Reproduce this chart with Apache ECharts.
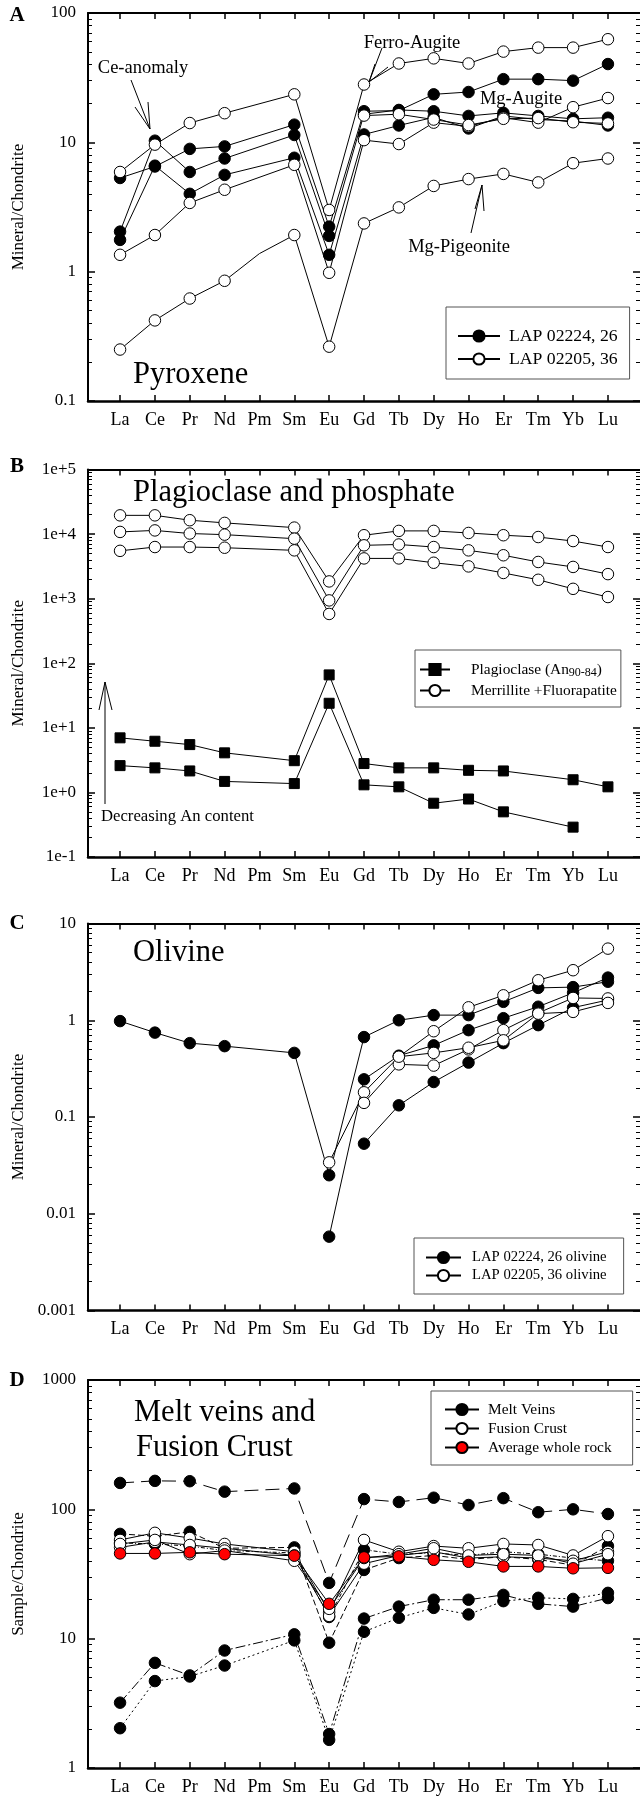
<!DOCTYPE html>
<html>
<head>
<meta charset="utf-8">
<script src="https://cdn.jsdelivr.net/npm/echarts@6/dist/echarts.min.js"></script>
<style>
  html, body { margin: 0; padding: 0; background: #fff; }
  #chart { width: 640px; height: 1797px; }
</style>
</head>
<body>
<div id="chart"></div>
<script>
// Rare earth elements along the x axis (Pm is never measured)
const elements = ['La', 'Ce', 'Pr', 'Nd', 'Pm', 'Sm', 'Eu', 'Gd', 'Tb', 'Dy', 'Ho', 'Er', 'Tm', 'Yb', 'Lu'];

// Tick labels of the four log axes
const ticksA = ['0.1', '1', '10', '100'];
const ticksB = ['1e-1', '1e+0', '1e+1', '1e+2', '1e+3', '1e+4', '1e+5'];
const ticksC = ['0.001', '0.01', '0.1', '1', '10'];
const ticksD = ['1', '10', '100', '1000'];

// A: pyroxene, LAP 02224, 26
const pyx26a = [5.3, 6.5, 8.9, 9.3, null, 13.7, 2.23, 17.4, 17.6, 23.5, 24.5, 30.8, 30.8, 30.0, 40.3];
const pyx26b = [2.04, 10.3, 5.9, 7.5, null, 11.4, 1.89, 16.5, 17.8, 17.4, 16.0, 16.9, 16.0, 15.2, 15.5];
const pyx26c = [1.76, 6.6, 4.0, 5.6, null, 7.6, 1.35, 11.5, 13.5, 15.6, 12.8, 16.0, 15.0, 14.6, 13.5];
// A: pyroxene, LAP 02205, 36
const pyx36a = [5.9, 9.6, 14.1, 16.8, null, 23.5, 3.0, 28.0, 40.7, 44.6, 40.7, 50.3, 54.0, 54.0, 62.7];
const pyx36b = [1.35, 1.92, 3.4, 4.3, null, 6.7, 0.98, 10.4, 9.7, 14.2, 13.3, 15.5, 14.2, 18.7, 22.0];
const pyx36c = [null, null, null, null, null, null, null, 16.1, 16.5, 15.0, 13.6, 15.2, 15.4, 14.3, 14.0];
const pyx36d = [0.25, 0.42, 0.62, 0.85, 1.38, 1.92, 0.263, 2.36, 3.14, 4.6, 5.2, 5.7, 4.9, 6.9, 7.5];

// B: plagioclase and phosphate
const plagHigh = [7.0, 6.2, 5.5, 4.1, null, 3.1, 66, 2.8, 2.4, 2.4, 2.2, 2.15, null, 1.57, 1.22];
const plagLow = [2.6, 2.4, 2.15, 1.48, null, 1.37, 24, 1.31, 1.22, 0.68, 0.79, 0.50, null, 0.29, null];
const phos1 = [19500, 19500, 16400, 14900, null, 12600, 1850, 9600, 11200, 11200, 10400, 9600, 9000, 7800, 6300];
const phos2 = [10800, 11400, 10200, 9800, null, 8500, 940, 6700, 6900, 6300, 5600, 4700, 3700, 3100, 2400];
const phos3 = [5500, 6300, 6300, 6150, null, 5600, 580, 4200, 4200, 3600, 3160, 2500, 1960, 1420, 1060];

// C: olivine, LAP 02224, 26
const oliv26a = [0.98, 0.745, 0.58, 0.54, null, 0.46, 0.025, 0.67, 1.0, 1.13, 1.13, 1.55, 2.16, 2.2, 2.5];
const oliv26b = [null, null, null, null, null, null, 0.0058, 0.245, 0.43, 0.55, 0.79, 1.05, 1.38, 1.92, 2.76];
const oliv26c = [null, null, null, null, null, null, null, 0.053, 0.132, 0.23, 0.365, 0.58, 0.89, 1.35, 1.62];
// C: olivine, LAP 02205, 36
const oliv36a = [null, null, null, null, null, null, 0.034, 0.18, 0.42, 0.77, 1.36, 1.81, 2.59, 3.29, 5.5];
const oliv36b = [null, null, null, null, null, null, null, 0.14, 0.35, 0.34, 0.50, 0.79, 1.19, 1.70, 1.68];
const oliv36c = [null, null, null, null, null, null, null, null, 0.42, 0.46, 0.52, 0.62, 1.17, 1.22, 1.51];

// D: melt veins, fusion crust and whole rock
const vein1 = [160, 166, 165, 137, null, 145, 27, 120, 114, 123, 108, 122, 95, 100, 92];
const vein2 = [3.2, 6.5, 5.2, 8.1, null, 10.8, 1.83, 14.3, 17.7, 20.0, 20.0, 21.8, 18.6, 17.7, 20.6];
const vein3 = [2.03, 4.7, 5.1, 6.2, null, 9.7, 1.65, 11.3, 14.5, 17.3, 15.4, 19.5, 20.7, 20.3, 22.6];
const vein4 = [64.6, 62, 67, 50, null, 50.8, 9.3, 34, 42, 44, 41, 43, 41, 37, 52];
const vein5 = [55, 54, 52, 48, null, 46, 14.7, 48.7, 45, 46, 44, 47, 45, 42, 40];
const crust1 = [58, 65.8, 60, 54, null, 47, 16, 58, 47, 52, 50, 54, 53, 44, 62];
const crust2 = [50.8, 56, 53, 50, null, 44, 15, 38, 44, 47, 42, 43, 42, 40, 47];
const crust3 = [54, 58, 45, 48, null, 40, 17, 42, 45, 50, 44, 45, 44, 38, 45];
const wholeRock = [45.6, 45.6, 46.5, 45, null, 43.8, 18.6, 42.5, 43.3, 40.7, 39.3, 36.2, 36.2, 35.0, 35.3];

const FONT = '"Liberation Serif", "Times New Roman", serif';
const PM = 4;

// placement of the four panels
const panels = [
  { top: 13, height: 388, min: -1, max: 2, labels: ticksA, name: 'Mineral/Chondrite' },
  { top: 469.5, height: 387.5, min: -1, max: 5, labels: ticksB, name: 'Mineral/Chondrite' },
  { top: 923.5, height: 387, min: -3, max: 1, labels: ticksC, name: 'Mineral/Chondrite' },
  { top: 1380, height: 388, min: 0, max: 3, labels: ticksD, name: 'Sample/Chondrite' }
];
const GRID_LEFT = 88, GRID_RIGHT = 0;

const catTicks = elements.map((_, i) => i);
const blackLine = w => ({ color: '#000', width: w });

function minorValues(min, max) {
  const out = [];
  for (let d = min; d < max; d++) {
    for (let k = 2; k <= 9; k++) out.push(d + Math.log10(k));
  }
  return out;
}

// Each panel uses three stacked grids of the same size:
// the main one (frame, labels, series) and two that only carry the
// short log-decade minor ticks on the left and right edges.
const grids = [], xAxes = [], yAxes = [];
panels.forEach((p, g) => {
  const gridBase = {
    left: GRID_LEFT, right: GRID_RIGHT, top: p.top, height: p.height,
    containLabel: false, outerBoundsMode: 'none', show: false
  };
  const main = grids.length;
  grids.push(Object.assign({}, gridBase));
  const xBase = { type: 'value', min: -0.92, max: 14.92, splitLine: { show: false }, offset: 0 };
  p.xBottom = xAxes.length;
  xAxes.push(Object.assign({}, xBase, {
    gridIndex: main, position: 'bottom',
    axisLine: { show: true, onZero: false, lineStyle: blackLine(2.5) },
    axisTick: { show: true, inside: true, length: 6, customValues: catTicks, lineStyle: blackLine(1.5) },
    axisLabel: {
      show: true, customValues: catTicks, formatter: v => elements[Math.round(v)],
      fontFamily: FONT, fontSize: 18, color: '#000', margin: 10
    }
  }));
  xAxes.push(Object.assign({}, xBase, {
    gridIndex: main, position: 'top',
    axisLine: { show: true, onZero: false, lineStyle: blackLine(2) },
    axisTick: { show: true, inside: true, length: 6, customValues: catTicks, lineStyle: blackLine(1.5) },
    axisLabel: { show: false }
  }));
  const yBase = { type: 'value', min: p.min, max: p.max, splitLine: { show: false }, offset: 0 };
  p.yLeft = yAxes.length;
  yAxes.push(Object.assign({}, yBase, {
    gridIndex: main, position: 'left', interval: 1,
    axisLine: { show: true, onZero: false, lineStyle: blackLine(2) },
    axisTick: { show: true, inside: true, length: 7, lineStyle: blackLine(1.5) },
    axisLabel: {
      formatter: v => p.labels[Math.round(v - p.min)],
      fontFamily: FONT, fontSize: 17, color: '#000', margin: 12
    },
    name: p.name, nameLocation: 'middle', nameGap: 61,
    nameTextStyle: { fontFamily: FONT, fontSize: 17, color: '#000' }
  }));
  // right edge: the frame line itself falls outside the page, only ticks show
  yAxes.push(Object.assign({}, yBase, {
    gridIndex: main, position: 'right', interval: 1,
    axisLine: { show: false, onZero: false },
    axisTick: { show: true, inside: true, length: 7, lineStyle: blackLine(1.5) },
    axisLabel: { show: false }
  }));
  const minor = minorValues(p.min, p.max);
  ['left', 'right'].forEach(side => {
    const gi = grids.length;
    grids.push(Object.assign({}, gridBase));
    xAxes.push(Object.assign({}, xBase, { gridIndex: gi, show: false, axisLine: { show: false, onZero: false } }));
    yAxes.push(Object.assign({}, yBase, {
      gridIndex: gi, position: side,
      axisLine: { show: false, onZero: false },
      axisTick: { show: true, inside: true, length: 4, customValues: minor, lineStyle: blackLine(1) },
      axisLabel: { show: false }
    }));
  });
});

const markStyles = {
  filled: { symbol: 'circle', size: 11.5, fill: '#000' },
  open: { symbol: 'circle', size: 11.5, fill: '#fff' },
  red: { symbol: 'circle', size: 11.5, fill: '#ff0000' },
  square: { symbol: 'rect', size: 10, fill: '#000' }
};

function line(g, name, values, kind, dash, z) {
  const m = markStyles[kind];
  const data = values
    .map((v, i) => {
      if (v == null) return null;
      const pt = [i, Math.log10(v)];
      // Pm only bends the line, it carries no marker
      return i === PM ? { value: pt, symbol: 'none' } : pt;
    })
    .filter(d => d !== null);
  return {
    type: 'line', name, data,
    xAxisIndex: panels[g].xBottom, yAxisIndex: panels[g].yLeft,
    symbol: m.symbol, symbolSize: m.size,
    itemStyle: { color: m.fill, borderColor: '#000', borderWidth: 1 },
    lineStyle: { color: '#000', width: 1, type: dash || 'solid' },
    emphasis: { disabled: true }, silent: true, animation: false,
    z: z || 2
  };
}

const nameA26 = 'LAP 02224, 26', nameA36 = 'LAP 02205, 36';
const namePlag = 'Plagioclase (An90-84)', namePhos = 'Merrillite +Fluorapatite';
const nameC26 = 'LAP 02224, 26 olivine', nameC36 = 'LAP 02205, 36 olivine';
const nameVein = 'Melt Veins', nameCrust = 'Fusion Crust', nameRock = 'Average whole rock';

const series = [
  line(0, nameA26, pyx26a, 'filled'),
  line(0, nameA26, pyx26b, 'filled'),
  line(0, nameA26, pyx26c, 'filled'),
  line(0, nameA36, pyx36a, 'open'),
  line(0, nameA36, pyx36b, 'open'),
  line(0, nameA36, pyx36c, 'open'),
  line(0, nameA36, pyx36d, 'open'),

  line(1, namePlag, plagHigh, 'square'),
  line(1, namePlag, plagLow, 'square'),
  line(1, namePhos, phos1, 'open'),
  line(1, namePhos, phos2, 'open'),
  line(1, namePhos, phos3, 'open'),

  line(2, nameC26, oliv26a, 'filled'),
  line(2, nameC26, oliv26b, 'filled'),
  line(2, nameC26, oliv26c, 'filled'),
  line(2, nameC36, oliv36a, 'open'),
  line(2, nameC36, oliv36b, 'open'),
  line(2, nameC36, oliv36c, 'open'),

  line(3, nameVein, vein1, 'filled', [14, 7]),
  line(3, nameVein, vein2, 'filled', [10, 3, 2, 3]),
  line(3, nameVein, vein3, 'filled', [2, 3]),
  line(3, nameVein, vein4, 'filled', [6, 3]),
  line(3, nameVein, vein5, 'filled', [4, 2, 1, 2]),
  line(3, nameCrust, crust1, 'open'),
  line(3, nameCrust, crust2, 'open'),
  line(3, nameCrust, crust3, 'open'),
  line(3, nameRock, wholeRock, 'red', 'solid', 3)
];

const legendBase = {
  orient: 'vertical', selectedMode: false,
  backgroundColor: '#fff', borderColor: '#555', borderWidth: 1, borderRadius: 0,
  itemHeight: 14, lineStyle: { width: 2 }
};
const legendText = (size, gap, extra) => Object.assign(
  { fontFamily: FONT, fontSize: size, color: '#000', padding: [0, 0, 0, gap] }, extra || {});

const legends = [
  Object.assign({}, legendBase, {
    data: [nameA26, nameA36], left: 446, top: 307,
    padding: [20, 12, 11, 11], itemWidth: 42, itemGap: 5,
    textStyle: legendText(17.7, 4)
  }),
  Object.assign({}, legendBase, {
    data: [namePlag, namePhos], left: 415, top: 650,
    padding: [12, 4, 9, 4], itemWidth: 30, itemGap: 4,
    formatter: n => (n === namePlag ? 'Plagioclase (An{sub|90-84})' : n),
    textStyle: legendText(15.4, 16, {
      rich: { sub: { fontFamily: FONT, fontSize: 12, color: '#000', padding: [7, 0, 0, 0] } }
    })
  }),
  Object.assign({}, legendBase, {
    data: [nameC26, nameC36], left: 414, top: 1238,
    padding: [12, 17, 11, 11], itemWidth: 35, itemGap: 3,
    textStyle: legendText(14.7, 6)
  }),
  Object.assign({}, legendBase, {
    data: [nameVein, nameCrust, nameRock], left: 431, top: 1391,
    padding: [11, 21, 10, 13], itemWidth: 34, itemGap: 4,
    textStyle: legendText(15.4, 4)
  })
];

// panel letters, panel titles and annotation arrows
const txt = (text, x, y, size, opts) => ({
  type: 'text', x, y, z: 10, silent: true,
  style: Object.assign({ text, fill: '#000', fontFamily: FONT, fontSize: size, align: 'left', verticalAlign: 'middle' }, opts || {})
});
const poly = pts => ({
  type: 'polyline', z: 10, silent: true,
  shape: { points: pts },
  style: { stroke: '#000', lineWidth: 1, fill: null }
});

const TITLE_X = 133, TITLE_SIZE = 30.5, NOTE_SIZE = 18.5;
const graphics = [
  txt('A', 17, 16, 21, { fontWeight: 'bold', align: 'center' }),
  txt('B', 17, 467, 21, { fontWeight: 'bold', align: 'center' }),
  txt('C', 17, 924, 21, { fontWeight: 'bold', align: 'center' }),
  txt('D', 17, 1381, 21, { fontWeight: 'bold', align: 'center' }),

  txt('Pyroxene', TITLE_X, 375, TITLE_SIZE),
  txt('Plagioclase and phosphate', TITLE_X, 493, TITLE_SIZE),
  txt('Olivine', TITLE_X, 953, TITLE_SIZE),
  txt('Melt veins and', TITLE_X + 1, 1413, TITLE_SIZE),
  txt('Fusion Crust', TITLE_X + 3, 1448, TITLE_SIZE),

  txt('Ce-anomaly', 143, 68, NOTE_SIZE, { align: 'center' }),
  poly([[131, 80], [150, 129]]),
  poly([[135, 107], [150, 129], [148, 102]]),
  txt('Ferro-Augite', 412, 43, NOTE_SIZE, { align: 'center' }),
  poly([[382, 48], [369, 82]]),
  poly([[375, 64], [369, 82], [388, 67]]),
  txt('Mg-Augite', 521, 99, NOTE_SIZE, { align: 'center' }),
  txt('Mg-Pigeonite', 459, 247, NOTE_SIZE, { align: 'center' }),
  poly([[471, 233], [482, 185]]),
  poly([[475, 209], [482, 185], [484, 211]]),

  poly([[105, 804], [105, 682]]),
  poly([[99, 710], [105, 682], [112, 710]]),
  txt('Decreasing An content', 101, 817, 16.7)
];

const option = {
  backgroundColor: '#fff',
  animation: false,
  grid: grids,
  xAxis: xAxes,
  yAxis: yAxes,
  legend: legends,
  series,
  graphic: graphics
};

const chart = echarts.init(document.getElementById('chart'), null, { renderer: 'canvas' });
chart.setOption(option);
</script>
</body>
</html>
